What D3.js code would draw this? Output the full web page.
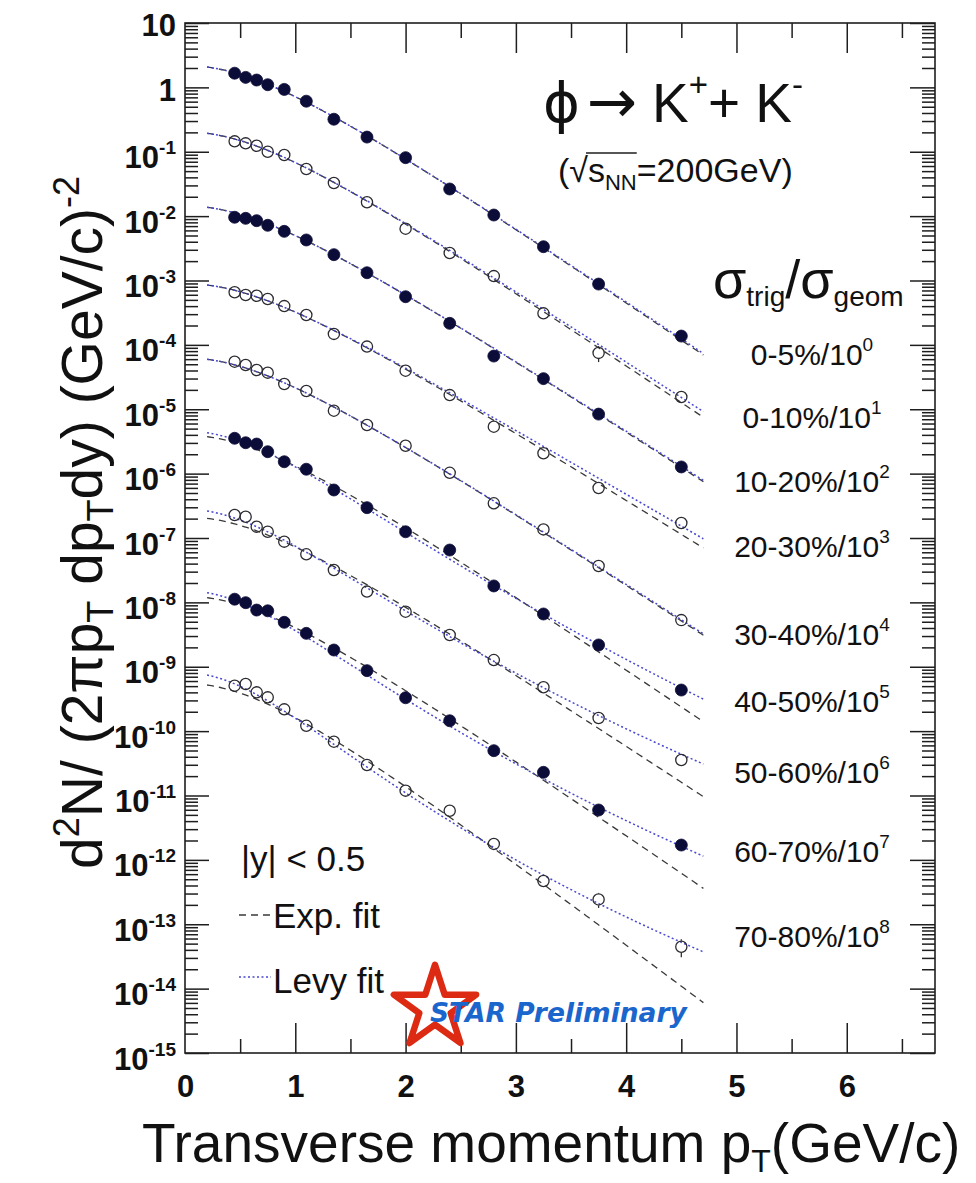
<!DOCTYPE html>
<html>
<head>
<meta charset="utf-8">
<script src="https://cdn.jsdelivr.net/npm/d3@7"></script>
<style>
  body { margin: 0; background: #fff; }
  svg { display: block; }
  text { font-family: "Liberation Sans", Arial, Helvetica, sans-serif; fill: #111; }
</style>
</head>
<body>
<svg id="chart" width="976" height="1183"></svg>
<script>
// ---------------- data ----------------
// transverse-momentum bin centres (GeV/c)
const pT = [0.45, 0.55, 0.65, 0.75, 0.9, 1.1, 1.35, 1.65, 2.0, 2.4, 2.8, 3.25, 3.75, 4.5];

// invariant yields, already divided by the scale factor in the label
const y00_05 = [1.66, 1.43, 1.30, 1.10, 0.93, 0.61, 0.32, 0.169, 0.081, 0.0264, 0.0104, 0.00335, 8.8e-4, 1.37e-4];
const y00_10 = [0.145, 0.135, 0.124, 0.100, 0.089, 0.054, 0.0327, 0.0164, 0.00638, 0.00267, 0.00117, 3.09e-4, 7.5e-5, 1.55e-5];
const y10_20 = [0.0096, 0.00924, 0.0085, 0.0072, 0.0058, 0.00426, 0.00252, 0.00132, 5.6e-4, 2.16e-4, 6.7e-5, 2.99e-5, 8.4e-6, 1.27e-6];
const y20_30 = [6.56e-4, 5.96e-4, 5.8e-4, 5.16e-4, 4.0e-4, 2.91e-4, 1.48e-4, 9.4e-5, 3.97e-5, 1.66e-5, 5.36e-6, 2.07e-6, 5.98e-7, 1.71e-7];
const y30_40 = [5.48e-5, 4.87e-5, 4.07e-5, 3.70e-5, 2.47e-5, 1.92e-5, 9.5e-6, 5.69e-6, 2.71e-6, 1.03e-6, 3.46e-7, 1.36e-7, 3.67e-8, 5.3e-9];
const y40_50 = [3.54e-6, 3.02e-6, 2.88e-6, 2.19e-6, 1.53e-6, 1.17e-6, 5.57e-7, 2.96e-7, 1.25e-7, 6.5e-8, 1.80e-8, 6.6e-9, 2.18e-9, 4.35e-10];
const y50_60 = [2.28e-7, 2.14e-7, 1.50e-7, 1.25e-7, 8.77e-8, 5.58e-8, 3.18e-8, 1.47e-8, 7.17e-9, 3.11e-9, 1.27e-9, 4.8e-10, 1.6e-10, 3.56e-11];
const y60_70 = [1.12e-8, 9.9e-9, 7.6e-9, 7.4e-9, 4.9e-9, 3.3e-9, 1.82e-9, 8.7e-10, 3.3e-10, 1.45e-10, 4.97e-11, 2.29e-11, 5.95e-12, 1.70e-12];
const y70_80 = [5.08e-10, 5.4e-10, 4.0e-10, 3.35e-10, 2.18e-10, 1.21e-10, 6.85e-11, 2.98e-11, 1.19e-11, 5.8e-12, 1.77e-12, 4.7e-13, 2.43e-13, 4.47e-14];

const centralityLabels = ["0-5%", "0-10%", "10-20%", "20-30%", "30-40%", "40-50%", "50-60%", "60-70%", "70-80%"];
const scalePowers = [0, 1, 2, 3, 4, 5, 6, 7, 8];
const filledMarker = [true, false, true, false, false, true, false, true, false];

// statistical errors that stick out of the markers: [series, bin, error]
const errorBarPoints = [[1, 12, 2.1e-5], [8, 12, 6.4e-14], [8, 13, 1.4e-14]];

// fit parameters (phi mass in GeV/c^2)
const mPhi = 1.019;
const expNorm = [2.185, 0.2039, 0.01442, 8.93e-4, 6.28e-5, 3.95e-6, 2.13e-7, 1.247e-8, 5.52e-10];
const expT    = [0.366, 0.3712, 0.3842, 0.4009, 0.3821, 0.3699, 0.3787, 0.3627, 0.3319];
const levyNorm = [2.185, 0.2039, 0.01442, 8.93e-4, 6.28e-5, 4.60e-6, 2.805e-7, 1.517e-8, 8.09e-10];
const levyT    = [0.366, 0.3712, 0.3842, 0.4009, 0.3821, 0.308, 0.295, 0.271, 0.233];
const levyN    = [1000, 250, 1000, 130, 1000, 20, 14, 13, 11];
const fitRange = [0.2, 4.7];

const xTickValues = [0, 1, 2, 3, 4, 5, 6];
const yDecades = d3.range(-15, 2);   // exponents 10^-15 .. 10^1

const spectra = [y00_05, y00_10, y10_20, y20_30, y30_40, y40_50, y50_60, y60_70, y70_80];

// ---------------- layout ----------------
const svg = d3.select("#chart");
const frame = { left: 185, right: 935, top: 23, bottom: 1053 };
const x = d3.scaleLinear().domain([0, 6.8]).range([frame.left, frame.right]);
const y = d3.scaleLog().domain([1e-15, 10]).range([frame.bottom, frame.top]);

const ink = "#1e1e1e";

// helper: text built from runs with their own size / vertical shift
function richText(sel, parts) {
  let shift = 0;
  parts.forEach(p => {
    const s = p.shift || 0;
    const t = sel.append("tspan").text(p.t).attr("font-size", p.size);
    if (s !== shift) t.attr("dy", s - shift);
    if (p.x !== undefined) t.attr("x", p.x);
    if (p.family) t.style("font-family", p.family);
    if (p.weight) t.attr("font-weight", p.weight);
    shift = s;
  });
  return sel;
}

// ---------------- axes ----------------
function styleTicks(g) {
  g.select(".domain").remove();
  g.selectAll(".tick line").attr("stroke", ink).attr("stroke-width", 1.5);
}
const halfSteps = d3.range(0.5, 6.8, 1);
const decadeVals = yDecades.map(e => Math.pow(10, e));
const minorVals = [];
yDecades.slice(0, -1).forEach(e => { for (let m = 2; m <= 9; m++) minorVals.push(m * Math.pow(10, e)); });

// bottom
svg.append("g").attr("transform", `translate(0,${frame.bottom})`)
  .call(d3.axisBottom(x).tickValues(halfSteps).tickSizeInner(-14).tickSizeOuter(0).tickFormat(""))
  .call(styleTicks);
const gxb = svg.append("g").attr("transform", `translate(0,${frame.bottom})`)
  .call(d3.axisBottom(x).tickValues(xTickValues).tickSizeInner(-30).tickSizeOuter(0).tickPadding(22).tickFormat(d3.format("d")))
  .call(styleTicks);
gxb.selectAll(".tick text").attr("font-size", 31).attr("font-weight", "bold").attr("fill", ink)
  .style("font-family", "'Liberation Sans', Arial, sans-serif");
gxb.selectAll(".tick").filter(d => d === 0).select("line").remove();

// top
svg.append("g").attr("transform", `translate(0,${frame.top})`)
  .call(d3.axisTop(x).tickValues(halfSteps).tickSizeInner(-15).tickSizeOuter(0).tickFormat(""))
  .call(styleTicks);
svg.append("g").attr("transform", `translate(0,${frame.top})`)
  .call(d3.axisTop(x).tickValues(xTickValues.slice(1)).tickSizeInner(-30).tickSizeOuter(0).tickFormat(""))
  .call(styleTicks);

// left
svg.append("g").attr("transform", `translate(${frame.left},0)`)
  .call(d3.axisLeft(y).tickValues(minorVals).tickSizeInner(-13).tickSizeOuter(0).tickFormat(""))
  .call(styleTicks);
const gyl = svg.append("g").attr("transform", `translate(${frame.left},0)`)
  .call(d3.axisLeft(y).tickValues(decadeVals).tickSizeInner(-24).tickSizeOuter(0).tickPadding(9).tickFormat(""))
  .call(styleTicks);
gyl.selectAll(".tick text").each(function (d) {
  const e = Math.round(Math.log10(d));
  const t = d3.select(this).attr("dy", null).attr("font-weight", "bold").attr("fill", ink)
    .style("font-family", "'Liberation Sans', Arial, sans-serif");
  if (e === 1) { t.attr("y", 12); richText(t, [{ t: "10", size: 31 }]); }
  else if (e === 0) { t.attr("y", 13); richText(t, [{ t: "1", size: 31 }]); }
  else { t.attr("y", 16); richText(t, [{ t: "10", size: 31 }, { t: String(e), size: 19, shift: -14 }]); }
});

// right
svg.append("g").attr("transform", `translate(${frame.right},0)`)
  .call(d3.axisRight(y).tickValues(minorVals).tickSizeInner(-13).tickSizeOuter(0).tickFormat(""))
  .call(styleTicks);
svg.append("g").attr("transform", `translate(${frame.right},0)`)
  .call(d3.axisRight(y).tickValues(decadeVals).tickSizeInner(-25).tickSizeOuter(0).tickFormat(""))
  .call(styleTicks);

// frame
svg.append("rect")
  .attr("x", frame.left).attr("y", frame.top)
  .attr("width", frame.right - frame.left).attr("height", frame.bottom - frame.top)
  .attr("fill", "none").attr("stroke", ink).attr("stroke-width", 1.6);

// ---------------- fits ----------------
const mT = p => Math.sqrt(p * p + mPhi * mPhi) - mPhi;
const expFit = (p, i) => expNorm[i] * Math.exp(-mT(p) / expT[i]);
const levyFit = (p, i) => levyNorm[i] * Math.pow(1 + mT(p) / (levyN[i] * levyT[i]), -levyN[i]);
const grid = d3.range(fitRange[0], fitRange[1] + 1e-9, 0.02);

const fitLayer = svg.append("g");
spectra.forEach((s, i) => {
  fitLayer.append("path")
    .attr("d", d3.line().x(p => x(p)).y(p => y(expFit(p, i)))(grid))
    .attr("fill", "none").attr("stroke", "#3a3a3a").attr("stroke-width", 1.3)
    .attr("stroke-dasharray", "7,5");
  fitLayer.append("path")
    .attr("d", d3.line().x(p => x(p)).y(p => y(levyFit(p, i)))(grid))
    .attr("fill", "none").attr("stroke", "#4848d0").attr("stroke-width", 1.5)
    .attr("stroke-dasharray", "2,2.5");
});

// ---------------- data points ----------------
const R = 6;
const pointLayer = svg.append("g");
errorBarPoints.forEach(([si, bi, err]) => {
  const v = spectra[si][bi], cx = x(pT[bi]), cy = y(v);
  const top = y(v + err), bot = y(v - err);
  if (cy - R > top) pointLayer.append("line").attr("x1", cx).attr("x2", cx).attr("y1", top).attr("y2", cy - R)
    .attr("stroke", "#333").attr("stroke-width", 1.3);
  if (bot > cy + R) pointLayer.append("line").attr("x1", cx).attr("x2", cx).attr("y1", cy + R).attr("y2", bot)
    .attr("stroke", "#333").attr("stroke-width", 1.3);
});
spectra.forEach((s, i) => {
  pointLayer.append("g").selectAll("circle").data(s).join("circle")
    .attr("cx", (d, j) => x(pT[j])).attr("cy", d => y(d)).attr("r", filledMarker[i] ? R : R - 0.4)
    .attr("fill", filledMarker[i] ? "#0c0c38" : "none")
    .attr("stroke", filledMarker[i] ? "#0c0c38" : "#2a2a30")
    .attr("stroke-width", filledMarker[i] ? 0.8 : 1.3);
});

// ---------------- labels ----------------
const labelBaselines = [365, 428, 492, 557, 645, 712, 783, 862, 947];
centralityLabels.forEach((c, i) => {
  const t = svg.append("text").attr("x", 812).attr("y", labelBaselines[i]).attr("text-anchor", "middle").attr("fill", ink);
  richText(t, [{ t: c + "/10", size: 30 }, { t: String(scalePowers[i]), size: 19, shift: -14 }]);
});

// sigma_trig / sigma_geom header
richText(svg.append("text").attr("x", 713).attr("y", 298).attr("fill", ink), [
  { t: "σ", size: 54 }, { t: "trig", size: 28, shift: 8 }, { t: "/σ", size: 54 }, { t: "geom", size: 28, shift: 8 }
]);

// reaction
richText(svg.append("text").attr("x", 543).attr("y", 122).attr("fill", ink), [
  { t: "ϕ", size: 56, family: "'DejaVu Sans', sans-serif" },
  { t: "→", size: 60, x: 587, family: "'DejaVu Sans', sans-serif" },
  { t: "K", size: 55, x: 652 }, { t: "+", size: 33, shift: -26 },
  { t: "+ K", size: 55 }, { t: "-", size: 33, shift: -26 }
]);

// energy
const eText = svg.append("text").attr("x", 558).attr("y", 182).attr("fill", ink);
richText(eText, [
  { t: "(√", size: 34 }, { t: "s", size: 34 }, { t: "NN", size: 22, shift: 8 }, { t: "=200GeV)", size: 34 }
]);
{
  const node = eText.node();
  const b = node.getEndPositionOfChar(4).x;
  const c = node.getExtentOfChar(1);
  svg.append("line").attr("x1", c.x + c.width - 2).attr("x2", b).attr("y1", c.y + 2).attr("y2", c.y + 2)
    .attr("stroke", ink).attr("stroke-width", 1.6);
}

// legend
richText(svg.append("text").attr("x", 241).attr("y", 871).attr("fill", ink), [{ t: "|y| < 0.5", size: 35 }]);
svg.append("line").attr("x1", 239).attr("x2", 271).attr("y1", 915).attr("y2", 915)
  .attr("stroke", "#3a3a3a").attr("stroke-width", 1.3).attr("stroke-dasharray", "7,5");
richText(svg.append("text").attr("x", 273).attr("y", 928).attr("fill", ink), [{ t: "Exp. fit", size: 35 }]);
svg.append("line").attr("x1", 239).attr("x2", 271).attr("y1", 977).attr("y2", 977)
  .attr("stroke", "#4848d0").attr("stroke-width", 1.5).attr("stroke-dasharray", "2,2.5");
richText(svg.append("text").attr("x", 273).attr("y", 993).attr("fill", ink), [{ t: "Levy fit", size: 35 }]);

// STAR logo mark
svg.append("path")
  .attr("d", d3.symbol(d3.symbolStar, 2100)())
  .attr("transform", "translate(435,1008)")
  .attr("fill", "none").attr("stroke", "#dd2a12").attr("stroke-width", 6.5).attr("stroke-linejoin", "round");
svg.append("text").attr("x", 430).attr("y", 1022)
  .style("font-family", "'DejaVu Sans', Verdana, sans-serif")
  .attr("font-size", 26.5).attr("font-weight", "bold").attr("font-style", "italic")
  .style("fill", "#1a66cc")
  .text("STAR Preliminary");

// axis titles
richText(svg.append("text").attr("x", 142).attr("y", 1162).attr("fill", ink), [
  { t: "Transverse momentum p", size: 55 }, { t: "T", size: 32, shift: 10 }, { t: "(GeV/c)", size: 55 }
]);
richText(svg.append("text").attr("transform", "translate(102,176) rotate(-90)").attr("text-anchor", "end").attr("fill", ink), [
  { t: "d", size: 57 }, { t: "2", size: 36, shift: -23 }, { t: "N/ (2πp", size: 57 }, { t: "T", size: 36, shift: 11 },
  { t: " dp", size: 57 }, { t: "T", size: 36, shift: 11 }, { t: "dy) (GeV/c)", size: 57 }, { t: "-2", size: 36, shift: -23 }
]);
</script>
</body>
</html>
